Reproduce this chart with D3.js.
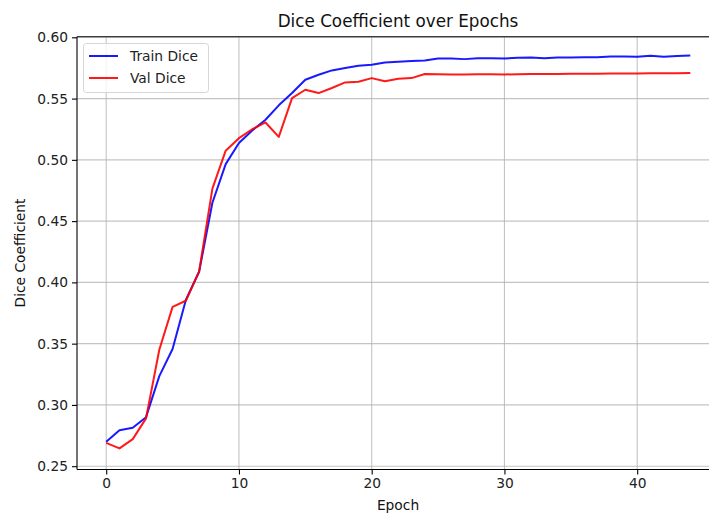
<!DOCTYPE html>
<html>
<head>
<meta charset="utf-8">
<script src="https://cdn.jsdelivr.net/npm/d3@7"></script>
<style>
  html, body { margin: 0; padding: 0; background: #fff; }
  svg { display: block; font-family: "DejaVu Sans", sans-serif; }
</style>
</head>
<body>
<svg id="chart" width="709" height="513"></svg>
<script>
const epochs = d3.range(0, 45);
const trainDice = [
  0.2699, 0.2794, 0.2813, 0.2900, 0.3235, 0.3456, 0.3856, 0.4087, 0.4650, 0.4965,
  0.5137, 0.5240, 0.5327, 0.5445, 0.5545, 0.5654, 0.5694, 0.5730, 0.5749, 0.5768,
  0.5776, 0.5795, 0.5800, 0.5806, 0.5811, 0.5828, 0.5828, 0.5822, 0.5830, 0.5830,
  0.5828, 0.5833, 0.5836, 0.5830, 0.5836, 0.5836, 0.5838, 0.5838, 0.5844, 0.5844,
  0.5842, 0.5849, 0.5841, 0.5847, 0.5852
];
const valDice = [
  0.2690, 0.2645, 0.2721, 0.2890, 0.3450, 0.3800, 0.3850, 0.4090, 0.4765, 0.5075,
  0.5177, 0.5250, 0.5305, 0.5187, 0.5504, 0.5572, 0.5545, 0.5586, 0.5632, 0.5637,
  0.5667, 0.5642, 0.5662, 0.5667, 0.5700, 0.5698, 0.5697, 0.5697, 0.5699, 0.5699,
  0.5697, 0.5699, 0.5700, 0.5700, 0.5701, 0.5702, 0.5702, 0.5703, 0.5704, 0.5705,
  0.5705, 0.5706, 0.5707, 0.5707, 0.5708
];
const xTicks = [0, 10, 20, 30, 40];
const yTicks = [0.25, 0.30, 0.35, 0.40, 0.45, 0.50, 0.55, 0.60];
const seriesNames = ["Train Dice", "Val Dice"];
const seriesColors = ["#0000ff", "#ff0000"];

const svg = d3.select("#chart");
const pLeft = 77, pRight = 719.5, pTop = 36.7, pBottom = 469.5;

const x = d3.scaleLinear().domain([-2.2, 46.2]).range([pLeft, pRight]);
const y = d3.scaleLinear().domain([0.2473, 0.6005]).range([pBottom, pTop]);

// grid
const grid = svg.append("g");
grid.selectAll("line.gx").data(xTicks).enter().append("line")
  .attr("x1", d => x(d)).attr("x2", d => x(d))
  .attr("y1", pTop).attr("y2", pBottom)
  .attr("stroke", "#b0b0b0").attr("stroke-opacity", 0.75).attr("stroke-width", 1.1);
grid.selectAll("line.gy").data(yTicks).enter().append("line")
  .attr("x1", pLeft).attr("x2", pRight)
  .attr("y1", d => y(d)).attr("y2", d => y(d))
  .attr("stroke", "#b0b0b0").attr("stroke-opacity", 0.75).attr("stroke-width", 1.1);

// lines
const series = [trainDice, valDice];
const line = d3.line().x((d, i) => x(epochs[i])).y(d => y(d));
series.forEach((s, k) => {
  svg.append("path").datum(s)
    .attr("fill", "none")
    .attr("stroke", seriesColors[k])
    .attr("stroke-opacity", 0.9)
    .attr("stroke-width", 2)
    .attr("stroke-linejoin", "round")
    .attr("d", line);
});

// axes
const xAxis = d3.axisBottom(x).tickValues(xTicks).tickFormat(d3.format("d")).tickSize(5).tickPadding(4);
const yAxis = d3.axisLeft(y).tickValues(yTicks).tickFormat(d3.format(".2f")).tickSize(5).tickPadding(4);

const gx = svg.append("g").attr("transform", `translate(0,${pBottom})`).call(xAxis);
const gy = svg.append("g").attr("transform", `translate(${pLeft},0)`).call(yAxis);
[gx, gy].forEach(g => {
  g.select(".domain").remove();
  g.selectAll(".tick line").attr("stroke", "#000").attr("stroke-width", 1.1);
  g.selectAll(".tick text").attr("fill", "#222").style("font-size", "13.8px").style("font-family", "DejaVu Sans, sans-serif");
});

// spines
svg.append("line").attr("x1", pLeft).attr("x2", pLeft).attr("y1", pTop).attr("y2", pBottom)
  .attr("stroke", "#000").attr("stroke-width", 1.1);
svg.append("line").attr("x1", pLeft).attr("x2", pRight).attr("y1", pBottom).attr("y2", pBottom)
  .attr("stroke", "#000").attr("stroke-width", 1.1);
svg.append("line").attr("x1", pLeft).attr("x2", pRight).attr("y1", pTop).attr("y2", pTop)
  .attr("stroke", "#000").attr("stroke-width", 1.1);

// title and labels
svg.append("text").attr("x", 398).attr("y", 27).attr("text-anchor", "middle")
  .style("font-size", "16.8px").attr("fill", "#111").text("Dice Coefficient over Epochs");
svg.append("text").attr("x", 398).attr("y", 510).attr("text-anchor", "middle")
  .style("font-size", "13.8px").attr("fill", "#111").text("Epoch");
svg.append("text").attr("transform", "translate(25,253) rotate(-90)").attr("text-anchor", "middle")
  .style("font-size", "13.8px").attr("fill", "#111").text("Dice Coefficient");

// legend
const lg = svg.append("g");
lg.append("rect").attr("x", 83.5).attr("y", 43.5).attr("width", 125).attr("height", 49)
  .attr("rx", 3).attr("fill", "#fff").attr("fill-opacity", 0.8)
  .attr("stroke", "#d6d6d6").attr("stroke-width", 1);
seriesNames.forEach((n, i) => {
  const yy = 56 + i * 22;
  lg.append("line").attr("x1", 89).attr("x2", 118).attr("y1", yy).attr("y2", yy)
    .attr("stroke", seriesColors[i]).attr("stroke-opacity", 0.9).attr("stroke-width", 2);
  lg.append("text").attr("x", 130).attr("y", yy + 5)
    .style("font-size", "13.8px").attr("fill", "#222").text(n);
});
</script>
</body>
</html>
